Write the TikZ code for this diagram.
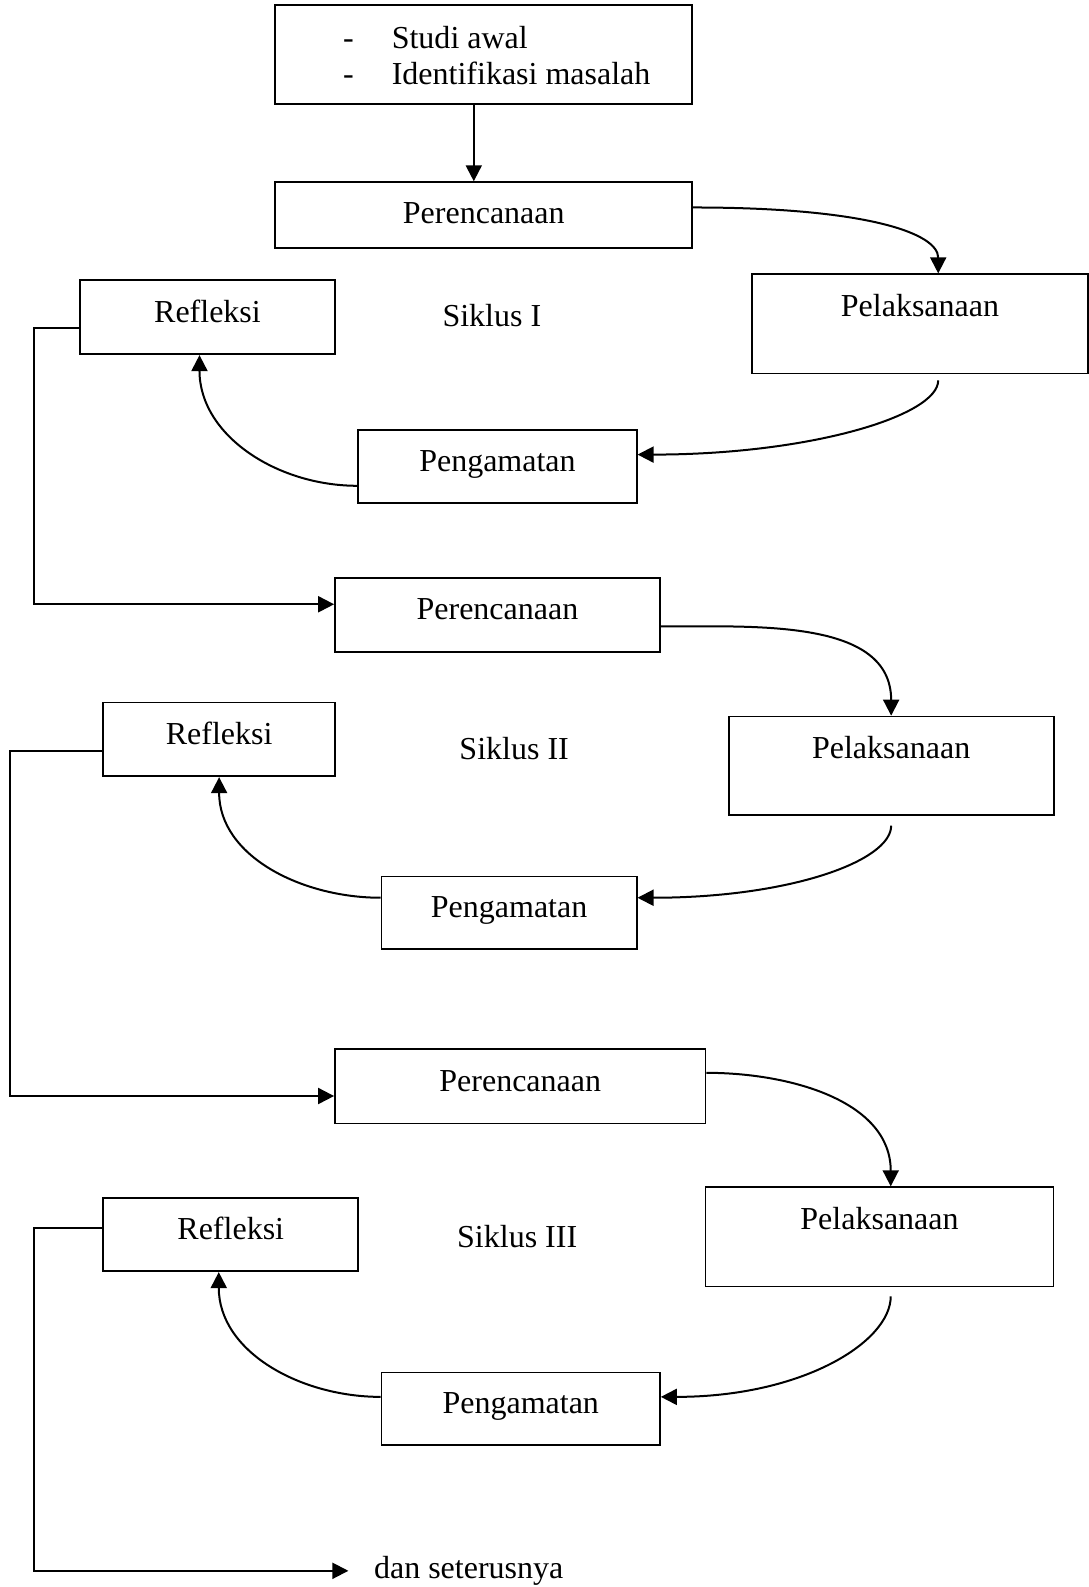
\documentclass[tikz,border=0pt]{standalone}
\usepackage{fontspec}
\setmainfont{Liberation Serif}
\usepackage{tikz}
\usetikzlibrary{arrows.meta, positioning}

\begin{document}
\begin{tikzpicture}[x=0.506pt, y=0.506pt, line width=1pt, font=\fontsize{16}{18}\selectfont,
    box/.style={draw, rectangle, line width=0.9pt, text height=11pt, text depth=6pt},
    pel/.style={box, text depth=18pt},
    arr/.style={-{Triangle[length=8pt, width=8pt]}}]
    \useasboundingbox (0,0) rectangle (1075,-1568);

    \node[draw, rectangle, line width=0.9pt, minimum width=208.5pt, minimum height=49.6pt] (awal) at (478,-54)
        {\hspace*{13pt}\begin{tabular}{@{}l@{\hspace{19pt}}l@{}}-\rule{0pt}{17.6pt} & Studi awal\\- & Identifikasi masalah\end{tabular}};

    % Siklus I
    \node[box, minimum width=208.5pt, minimum height=32.9pt, text depth=3pt] (per1) at (478,-212.5) {Perencanaan};
    \node[pel, minimum width=168pt, minimum height=49.6pt] (pel1) at (909,-320) {Pelaksanaan};
    \node[box, minimum width=139.2pt, minimum height=36.4pt] (peng1) at (491.5,-461) {Pengamatan};
    \node[box, minimum width=127.5pt, minimum height=36.9pt] (refl1) at (205,-313.5) {Refleksi};
    \node (sik1) at (486,-312) {Siklus I};

    % Siklus II
    \node[box, minimum width=162.4pt, minimum height=36.9pt] (per2) at (491.5,-607.5) {Perencanaan};
    \node[pel, minimum width=162.4pt, minimum height=49.1pt] (pel2) at (880.5,-756.5) {Pelaksanaan};
    \node[box, minimum width=127.5pt, minimum height=36.4pt] (peng2) at (503,-902) {Pengamatan};
    \node[box, minimum width=115.9pt, minimum height=36.9pt] (refl2) at (216.5,-730.5) {Refleksi};
    \node (sik2) at (508,-740) {Siklus II};

    % Siklus III
    \node[box, minimum width=185.2pt, minimum height=37.4pt] (per3) at (514,-1073) {Perencanaan};
    \node[pel, minimum width=174pt, minimum height=49.6pt] (pel3) at (869,-1222) {Pelaksanaan};
    \node[box, minimum width=139.2pt, minimum height=36.4pt] (peng3) at (514.5,-1392) {Pengamatan};
    \node[box, minimum width=127.5pt, minimum height=36.4pt] (refl3) at (228,-1220) {Refleksi};
    \node (sik3) at (511,-1222) {Siklus III};

    \node[anchor=west] (lanjut) at (362,-1552) {dan seterusnya};

    \draw[arr] ([xshift=-5pt]awal.south) -- ([xshift=-5pt]per1.north);

    \draw[arr] ([yshift=3.8pt]per1.east) .. controls +(170,0) and +(0,40) .. ([xshift=9.1pt]pel1.north);
    \draw[arr] ([xshift=9.1pt, yshift=-3pt]pel1.south) .. controls +(0,-35) and +(170,0) .. ([yshift=6pt]peng1.east);
    \draw[arr] ([yshift=-9.6pt]peng1.west) to[out=180, in=-90] ([xshift=-4pt]refl1.south);
    \draw[arr] ([yshift=-5.3pt]refl1.west) -- ++(-45,0) |- ([yshift=5.3pt]per2.west);

    \draw[arr] ([yshift=-5.8pt]per2.east) to[out=0, in=90] (pel2.north);
    \draw[arr] ([yshift=-5pt]pel2.south) .. controls +(0,-35) and +(150,0) .. ([yshift=7.6pt]peng2.east);
    \draw[arr] ([yshift=7.6pt]peng2.west) to[out=180, in=-90] (refl2.south);
    \draw[arr] ([yshift=-5.8pt]refl2.west) -- ++(-91,0) |- ([yshift=-5pt]per3.west);

    \draw[arr] ([yshift=6.6pt]per3.east) to[out=0, in=90] ([xshift=5.6pt]pel3.north);
    \draw[arr] ([xshift=5.6pt, yshift=-4.5pt]pel3.south) .. controls +(0,-45) and +(140,0) .. ([yshift=6pt]peng3.east);
    \draw[arr] ([yshift=6pt]peng3.west) to[out=180, in=-90] ([xshift=-6pt]refl3.south);
    \draw[arr] ([yshift=3.5pt]refl3.west) -- ++(-68,0) |- ([xshift=-9pt]lanjut.west);
\end{tikzpicture}
\end{document}
